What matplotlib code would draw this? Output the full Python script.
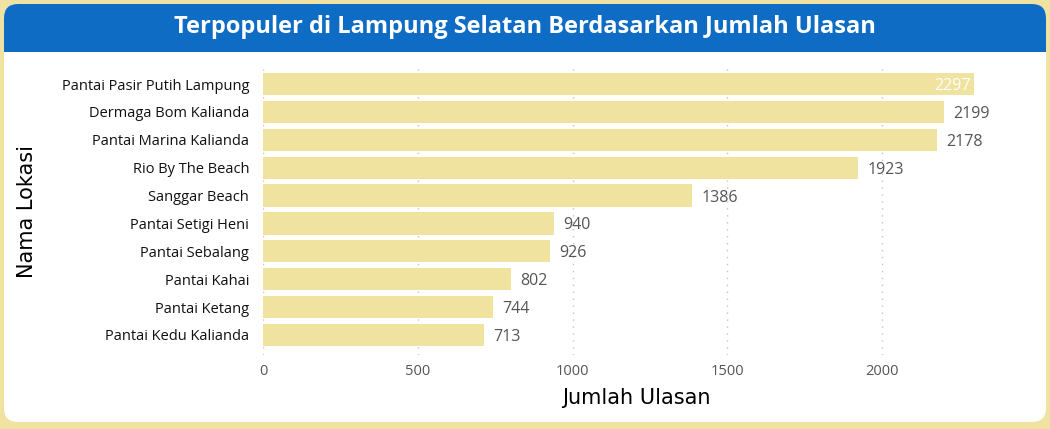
import matplotlib.pyplot as plt
from matplotlib.patches import FancyBboxPatch, Rectangle

lokasi = ["Pantai Pasir Putih Lampung", "Dermaga Bom Kalianda", "Pantai Marina Kalianda",
          "Rio By The Beach", "Sanggar Beach", "Pantai Setigi Heni", "Pantai Sebalang",
          "Pantai Kahai", "Pantai Ketang", "Pantai Kedu Kalianda"]
ulasan = [2297, 2199, 2178, 1923, 1386, 940, 926, 802, 744, 713]
xticks = [0, 500, 1000, 1500, 2000]

BG = "#F0E2A0"
BAR = "#F0E29F"
BLUE = "#0F6CC4"

fig = plt.figure(figsize=(10.5, 4.29), dpi=100, facecolor=BG)

# white rounded panel + blue title bar (pixel coords)
panel = FancyBboxPatch((4, 7), 1042, 418, boxstyle="round,pad=0,rounding_size=14",
                       transform=None, facecolor="white", edgecolor="none", zorder=-3)
fig.patches.append(panel)
bar_top = FancyBboxPatch((4, 377), 1042, 48, boxstyle="round,pad=0,rounding_size=14",
                         transform=None, facecolor=BLUE, edgecolor="none", zorder=-2)
fig.patches.append(bar_top)
fig.patches.append(Rectangle((4, 377), 1042, 20, transform=None, facecolor=BLUE,
                             edgecolor="none", zorder=-2))
fig.text(0.5, 1 - 27 / 429, "Terpopuler di Lampung Selatan Berdasarkan Jumlah Ulasan",
         ha="center", va="center", color="white", fontsize=17, fontweight="bold",
         family="Open Sans")

ax = fig.add_axes([263 / 1050, 1 - 354.5 / 429, (1010 - 263) / 1050, (354.5 - 67.3) / 429])
ax.set_zorder(1)
ax.set_facecolor("none")
y = range(len(lokasi))
ax.barh(y, ulasan, height=0.8, color=BAR, zorder=2)
ax.set_xlim(0, 2413)
ax.set_ylim(9.7, -0.6)
ax.set_yticks(list(y))
ax.set_yticklabels(lokasi, family="Open Sans", fontsize=10.5, color="#111111",
                   va="center_baseline")
ax.set_xticks(xticks)
ax.set_xticklabels([str(t) for t in xticks], family="Open Sans", fontsize=10.5, color="#555555")
ax.tick_params(length=0, pad=10)
ax.tick_params(axis="x", pad=7)
for s in ax.spines.values():
    s.set_visible(False)
ax.grid(axis="x", linestyle=(0, (1, 4)), color="#c4c4c4", linewidth=1, zorder=1)

for i, v in enumerate(ulasan):
    if i == 0:
        ax.text(v - 10, i, str(v), ha="right", va="center_baseline", color="white",
                family="Open Sans", fontsize=11.5)
    else:
        ax.text(v + 30, i, str(v), ha="left", va="center_baseline", color="#555555",
                family="Open Sans", fontsize=11.5)

ax.set_xlabel("Jumlah Ulasan", family="DejaVu Sans", fontsize=15, labelpad=6)
fig.text(27 / 1050, 1 - 212 / 429, "Nama Lokasi", rotation=90, ha="center", va="center",
         family="DejaVu Sans", fontsize=15)

fig.savefig("out.png", dpi=100, facecolor=BG)
